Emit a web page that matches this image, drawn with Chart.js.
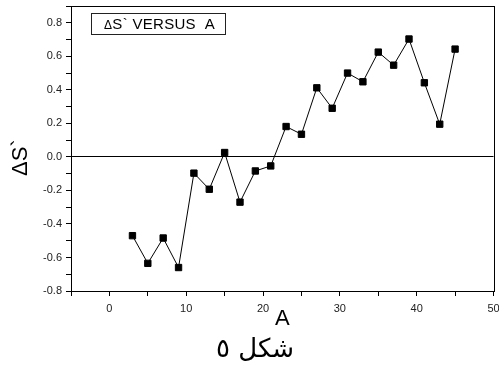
<!DOCTYPE html>
<html>
<head>
<meta charset="utf-8">
<script src="https://cdn.jsdelivr.net/npm/chart.js@4"></script>
<style>
  html, body { margin: 0; padding: 0; background: #fff; }
  #wrap { position: relative; width: 499px; height: 368px; }
  #legend {
    position: absolute; left: 91px; top: 13px; width: 135px; height: 22px;
    border: 1px solid #222; box-sizing: border-box;
    font: 15px "Liberation Sans", Arial, sans-serif; color: #000;
    letter-spacing: 0.3px;
    line-height: 20px; padding-left: 12px; white-space: pre;
  }
  #legend .d { font-size: 12px; }
  #caption {
    position: absolute; left: 195px; top: 333px; width: 120px;
    text-align: center; direction: rtl;
    font: 26px "DejaVu Sans", sans-serif; color: #000;
  }
</style>
</head>
<body>
<div id="wrap">
  <canvas id="chart" width="499" height="368"></canvas>
  <div id="legend"><span class="d">Δ</span>S` VERSUS&nbsp;&nbsp;A</div>
  <div id="caption">شكل ٥</div>
</div>
<script>
// ── Data ───────────────────────────────────────────────────────
const A_VALUES = [3, 5, 7, 9, 11, 13, 15, 17, 19, 21, 23, 25, 27, 29, 31, 33, 35, 37, 39, 41, 43, 45];
const DELTA_S = [-0.47, -0.635, -0.484, -0.66, -0.097, -0.193, 0.026, -0.27, -0.084, -0.054, 0.181,
                 0.135, 0.412, 0.29, 0.50, 0.448, 0.625, 0.547, 0.703, 0.442, 0.195, 0.643];

const X_MIN = -5, X_MAX = 50;
const Y_MIN = -0.8, Y_MAX = 0.9;

const FONT = '"Liberation Sans", Arial, sans-serif';

// frame round the plot area (top + right sides too)
const frame = {
    id: 'frame',
    afterDraw(chart) {
        const { ctx, chartArea: a } = chart;
        ctx.save();
        ctx.strokeStyle = '#000';
        ctx.lineWidth = 1;
        ctx.strokeRect(Math.round(a.left) + 0.5, Math.round(a.top) + 0.5,
            Math.round(a.right - a.left), Math.round(a.bottom - a.top));
        ctx.restore();
    }
};

new Chart(document.getElementById('chart'), {
    type: 'line',
    data: {
        datasets: [{
            data: A_VALUES.map((a, i) => ({ x: a, y: DELTA_S[i] })),
            borderColor: '#000',
            borderWidth: 1,
            backgroundColor: '#000',
            pointStyle: 'rect',
            pointRadius: 4.5,
            pointBorderWidth: 1,
            tension: 0,
        }],
    },
    options: {
        responsive: false,
        animation: false,
        layout: { padding: { left: 0, right: 4, top: 6, bottom: 0 } },
        plugins: { legend: { display: false }, tooltip: { enabled: false } },
        scales: {
            x: {
                type: 'linear',
                min: X_MIN,
                max: X_MAX,
                border: { color: '#000' },
                grid: { drawOnChartArea: false, tickLength: 5, tickColor: '#000' },
                ticks: {
                    stepSize: 5,
                    autoSkip: false,
                    maxRotation: 0,
                    padding: 6,
                    color: '#222',
                    font: { family: FONT, size: 11 },
                    callback: v => (v % 10 === 0 ? String(v) : ''),
                },
                title: {
                    display: true,
                    text: 'A',
                    color: '#000',
                    font: { family: FONT, size: 22 },
                    padding: { top: 0, bottom: 36 },
                },
                afterFit: s => { s.height = 77; s.paddingLeft = 0; s.paddingRight = 0; },
            },
            y: {
                min: Y_MIN,
                max: Y_MAX,
                border: { color: '#000' },
                grid: {
                    tickLength: 5,
                    tickColor: '#000',
                    color: c => (c.tick && Math.round(c.tick.value * 10) === 0 ? '#000' : 'rgba(0,0,0,0)'),
                },
                ticks: {
                    stepSize: 0.1,
                    autoSkip: false,
                    padding: 4,
                    color: '#222',
                    font: { family: FONT, size: 11 },
                    callback: v => {
                        const k = Math.round(v * 10);
                        return k % 2 === 0 ? (k / 10).toFixed(1) : '';
                    },
                },
                title: {
                    display: true,
                    text: 'ΔS`   ',
                    color: '#000',
                    font: { family: FONT, size: 22 },
                    padding: { top: 8, bottom: 0 },
                },
                afterFit: s => { s.width = 71; s.paddingTop = 0; s.paddingBottom = 0; },
            },
        },
    },
    plugins: [frame],
});
</script>
</body>
</html>
